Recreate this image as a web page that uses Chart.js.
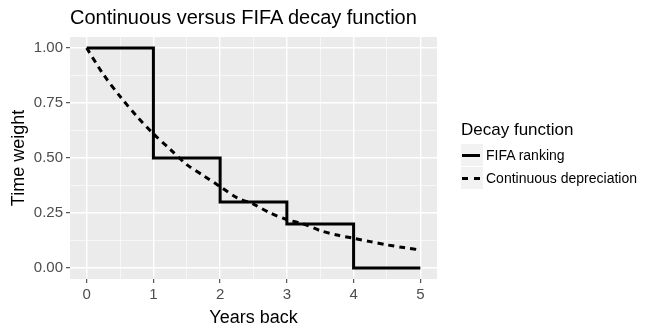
<!DOCTYPE html>
<html>
<head>
<meta charset="utf-8">
<script src="https://cdn.jsdelivr.net/npm/chart.js@4"></script>
<style>
  body { margin: 0; background: #fff; font-family: "Liberation Sans", Arial, sans-serif; }
  #wrap { position: relative; width: 658px; height: 329px; }
  #title { position: absolute; left: 70px; top: 6px; font-size: 20px; color: #000; white-space: nowrap; }
  #legend { position: absolute; left: 461px; top: 120px; }
  #legend .lt { font-size: 17px; color: #000; margin-bottom: 4px; white-space: nowrap; }
  #legend .row { display: flex; align-items: center; height: 22.5px; }
  #legend .key { width: 22px; height: 22px; background: #f2f2f2; position: relative; }
  #legend .key span { position: absolute; left: 1px; right: 3px; top: 10px; border-top: 3px solid #000; }
  #legend .key span.dash { border-top: 3px dashed #000; }
  #legend .lab { font-size: 14px; color: #000; margin-left: 3px; white-space: nowrap; }
</style>
</head>
<body>
<div id="wrap">
  <canvas id="c" width="658" height="329"></canvas>
  <div id="title">Continuous versus FIFA decay function</div>
  <div id="legend">
    <div class="lt">Decay function</div>
    <div class="row"><div class="key"><span></span></div><div class="lab">FIFA ranking</div></div>
    <div class="row"><div class="key"><span class="dash"></span></div><div class="lab">Continuous depreciation</div></div>
  </div>
</div>
<script>
// FIFA ranking step weights (value holds until the next year)
const fifaYears = [0, 1, 2, 3, 4, 5];
const fifaWeights = [1.00, 0.50, 0.30, 0.20, 0.00, 0.00];

// continuous depreciation
const contYears = [0, 0.25, 0.5, 0.75, 1, 1.25, 1.5, 1.75, 2, 2.25, 2.5, 2.75, 3, 3.25, 3.5, 3.75, 4, 4.25, 4.5, 4.75, 5];
const contWeights = [1.00, 0.88, 0.78, 0.69, 0.61, 0.54, 0.47, 0.42, 0.37, 0.32, 0.29, 0.25, 0.22, 0.20, 0.17, 0.15, 0.135, 0.12, 0.105, 0.093, 0.082];

const xTicks = [0, 1, 2, 3, 4, 5];
const yTicks = [0, 0.25, 0.5, 0.75, 1];

const toPoints = (xs, ys) => xs.map((x, i) => ({ x: x, y: ys[i] }));

const isMajor = (v, list) => list.some(t => Math.abs(t - v) < 1e-9);

new Chart(document.getElementById('c'), {
    type: 'line',
    data: {
        datasets: [{
            label: 'FIFA ranking',
            data: toPoints(fifaYears, fifaWeights),
            stepped: 'before',
            borderColor: '#000',
            borderWidth: 3,
            pointRadius: 0,
            fill: false
        }, {
            label: 'Continuous depreciation',
            data: toPoints(contYears, contWeights),
            borderColor: '#000',
            borderWidth: 3,
            borderDash: [6, 5],
            pointRadius: 0,
            tension: 0.3,
            fill: false
        }]
    },
    options: {
        responsive: false,
        animation: false,
        layout: { padding: { left: 0, top: 37, right: 221, bottom: 0 } },
        plugins: {
            legend: { display: false },
            tooltip: { enabled: false }
        },
        scales: {
            x: {
                type: 'linear',
                min: -0.25,
                max: 5.25,
                afterBuildTicks: scale => {
                    scale.ticks = [0, 0.5, 1, 1.5, 2, 2.5, 3, 3.5, 4, 4.5, 5].map(v => ({ value: v }));
                },
                afterFit: scale => { scale.height = 50; },
                border: { display: false },
                grid: {
                    color: '#ffffff',
                    lineWidth: ctx => isMajor(ctx.tick.value, xTicks) ? 1.4 : 0.6,
                    drawTicks: true,
                    tickLength: 4,
                    tickColor: ctx => isMajor(ctx.tick.value, xTicks) ? '#333333' : 'rgba(0,0,0,0)',
                    tickWidth: 1
                },
                ticks: {
                    autoSkip: false,
                    maxRotation: 0,
                    color: '#4d4d4d',
                    font: { family: 'Liberation Sans', size: 15 },
                    padding: 3,
                    callback: v => isMajor(v, xTicks) ? String(v) : ''
                },
                title: {
                    display: true,
                    text: 'Years back',
                    color: '#000',
                    font: { family: 'Liberation Sans', size: 18 },
                    padding: { top: 0, bottom: 0 }
                }
            },
            y: {
                type: 'linear',
                min: -0.05,
                max: 1.05,
                afterBuildTicks: scale => {
                    scale.ticks = [0, 0.125, 0.25, 0.375, 0.5, 0.625, 0.75, 0.875, 1].map(v => ({ value: v }));
                },
                afterFit: scale => { scale.width = 70; },
                border: { display: false },
                grid: {
                    color: '#ffffff',
                    lineWidth: ctx => isMajor(ctx.tick.value, yTicks) ? 1.4 : 0.6,
                    drawTicks: true,
                    tickLength: 4,
                    tickColor: ctx => isMajor(ctx.tick.value, yTicks) ? '#333333' : 'rgba(0,0,0,0)',
                    tickWidth: 1
                },
                ticks: {
                    autoSkip: false,
                    color: '#4d4d4d',
                    font: { family: 'Liberation Sans', size: 15 },
                    padding: 3,
                    callback: v => isMajor(v, yTicks) ? v.toFixed(2) : ''
                },
                title: {
                    display: true,
                    text: 'Time weight',
                    color: '#000',
                    font: { family: 'Liberation Sans', size: 18 },
                    padding: { top: 8, bottom: 0 }
                }
            }
        }
    },
    plugins: [{
        id: 'panelBg',
        beforeDraw: chart => {
            const a = chart.chartArea;
            const ctx = chart.ctx;
            ctx.save();
            ctx.fillStyle = '#ebebeb';
            ctx.fillRect(a.left, a.top, a.right - a.left, a.bottom - a.top);
            ctx.restore();
        }
    }]
});
</script>
</body>
</html>
